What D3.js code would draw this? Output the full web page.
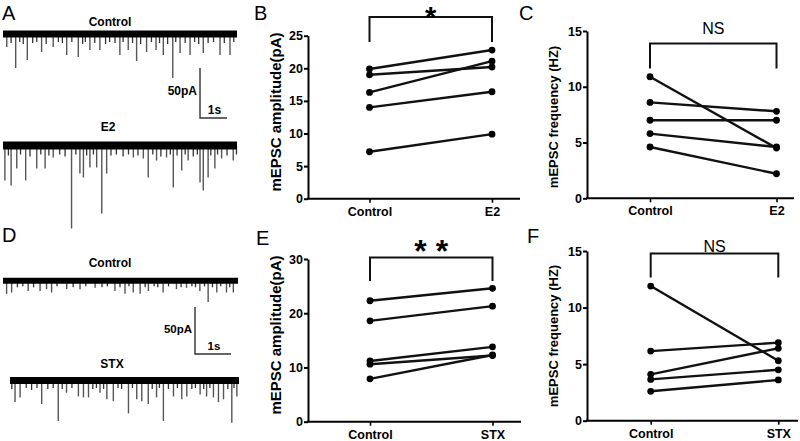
<!DOCTYPE html>
<html><head><meta charset="utf-8">
<script src="https://cdn.jsdelivr.net/npm/d3@7"></script>
<style>html,body{margin:0;padding:0;background:#fff}svg{display:block}</style>
</head><body>
<svg id="fig" width="800" height="441"></svg>
<script>
// ---------- DATA ----------
const panelLetters = ["A","B","C","D","E","F"];

const catsE2 = ["Control","E2"];
const catsSTX = ["Control","STX"];

const ampE2Control = [19.9, 19.0, 16.3, 14.0, 7.2];
const ampE2Treated = [22.8, 20.2, 21.1, 16.4, 9.9];
const ampE2Ticks = [0,5,10,15,20,25];

const freqE2Control = [10.9, 8.6, 7.0, 5.8, 4.6];
const freqE2Treated = [4.5, 7.8, 7.0, 4.6, 2.2];
const freqE2Ticks = [0,5,10,15];

const ampSTXControl = [22.3, 18.6, 11.2, 10.6, 7.9];
const ampSTXTreated = [24.6, 21.3, 13.8, 12.2, 12.3];
const ampSTXTicks = [0,10,20,30];

const freqSTXControl = [11.9, 6.15, 4.1, 3.65, 2.6];
const freqSTXTreated = [5.3, 6.9, 6.4, 4.5, 3.6];
const freqSTXTicks = [0,5,10,15];

// traces: [time s, amplitude pA]
const traceACtrlEvents = [[0.14,13],[0.47,34],[0.9,26],[1.43,18],[1.86,13],[2.36,21],[2.79,23],[3.22,16],[3.59,16],[4.33,21],[4.64,16],[4.95,27],[5.32,18],[5.67,16],[5.94,21],[6.29,44],[6.56,19],[6.93,21],[7.42,19],[8.04,21],[8.41,21]];
const traceACtrlSmall = [[0.3,9],[0.62,8],[0.75,10],[1.1,9],[1.25,8],[1.6,10],[2.05,8],[2.2,9],[2.55,8],[2.95,10],[3.05,8],[3.4,9],[3.8,10],[3.95,8],[4.15,9],[4.45,8],[4.8,9],[5.1,10],[5.5,8],[5.8,9],[6.1,10],[6.4,8],[6.75,9],[7.1,8],[7.25,10],[7.6,9],[7.8,8],[8.2,9],[8.55,8]];
const traceAE2Events = [[0.07,35],[0.3,40],[0.51,23],[0.84,35],[1.25,23],[1.56,23],[1.86,12],[2.54,83],[2.85,28],[2.98,32],[3.22,22],[3.47,22],[3.66,68],[3.84,28],[4.83,12],[5.2,13],[5.38,32],[5.69,15],[6.06,12],[6.31,42],[6.62,25],[6.86,15],[7.3,37],[7.42,45],[7.6,32],[7.85,23],[8.1,13],[8.53,15]];
const traceAE2Small = [[0.2,10],[0.65,9],[1.0,11],[1.4,9],[1.7,10],[2.1,9],[2.3,11],[2.7,9],[3.1,10],[3.35,9],[4.0,10],[4.2,9],[4.45,11],[4.65,9],[5.0,10],[5.55,9],[5.85,11],[6.2,9],[6.45,10],[6.75,9],[7.05,11],[7.2,9],[7.7,10],[7.95,9],[8.3,10],[8.65,9]];
const traceDCtrlEvents = [[0.1,14],[0.24,12.6],[0.7,11],[1.03,11],[1.21,9],[1.35,12.6],[1.77,9],[2.14,9],[2.56,7.6],[3.11,11],[3.39,14],[3.62,12.6],[3.81,14],[4.04,11],[4.45,12.6],[4.82,9],[5.1,7.6],[5.47,11],[5.7,22.6],[5.94,12.6],[6.21,12.6],[6.4,12.6]];
const traceDCtrlSmall = [[0.4,7],[0.55,6],[0.85,7],[1.5,6],[1.95,7],[2.3,6],[2.75,7],[2.9,6],[3.25,7],[3.5,6],[3.95,7],[4.2,6],[4.3,7],[4.6,6],[4.95,7],[5.25,6],[5.35,7],[5.6,6],[5.82,7],[6.05,6],[6.3,7]];
const traceDSTXEvents = [[0.14,23],[0.28,18],[0.88,25],[1.34,43],[1.57,13],[1.9,17],[2.04,18],[2.18,18],[2.5,13],[2.69,20],[2.87,22],[3.29,35],[3.52,20],[3.66,22],[3.84,25],[4.07,18],[4.26,43],[4.54,17],[4.77,20],[4.91,17],[5.28,15],[5.46,17],[5.65,18],[5.79,23],[5.93,20],[6.16,45],[6.3,17]];
const traceDSTXSmall = [[0.05,9],[0.45,8],[0.6,10],[0.75,8],[1.05,9],[1.2,8],[1.45,9],[1.72,8],[2.3,9],[2.4,8],[2.6,9],[3.0,8],[3.1,9],[3.4,8],[3.95,9],[4.15,8],[4.4,9],[4.65,8],[5.05,9],[5.15,8],[5.38,9],[5.55,8],[6.05,9],[6.22,8]];

// ---------- DRAW ----------
const svg = d3.select("#fig");
const FONT = "'Liberation Sans', Arial, Helvetica, sans-serif";

// panel letters
const letterPos = [[2,20],[254,20],[519,20],[2,242],[256,245],[527,243]];
svg.selectAll("text.plab").data(panelLetters).join("text")
  .attr("class","plab")
  .attr("x",(d,i)=>letterPos[i][0]).attr("y",(d,i)=>letterPos[i][1])
  .attr("font-family",FONT).attr("font-size",20).attr("fill","#000")
  .text(d=>d);

function drawPanel(cfg, cats, ctrl, treat, ticks, ylabel, sigText) {
  const g = svg.append("g");
  const x = d3.scalePoint().domain(cats).range([cfg.cx, cfg.tx]);
  const y = d3.scaleLinear().domain([0, ticks[ticks.length-1]]).range([cfg.y0, cfg.y1]);

  const ya = g.append("g").attr("transform",`translate(${cfg.ax},0)`)
    .call(d3.axisLeft(y).tickValues(ticks).tickSize(4).tickPadding(1).tickSizeOuter(0));
  ya.attr("font-family",FONT).attr("font-size",12.5).attr("font-weight","bold");
  ya.select(".domain").attr("stroke-width",2);
  ya.selectAll(".tick line").attr("stroke-width",2);

  const xa = g.append("g").attr("transform",`translate(0,${cfg.y0})`)
    .call(d3.axisBottom(x).tickSize(4).tickPadding(4).tickSizeOuter(0));
  xa.attr("font-family",FONT).attr("font-size",12.5).attr("font-weight","bold");
  xa.select(".domain").attr("d",`M${cfg.ax-1},0H${cfg.xend}`).attr("stroke-width",2);
  xa.selectAll(".tick line").attr("stroke-width",1.6);

  // y label
  g.append("text")
    .attr("transform",`translate(${cfg.lx},${cfg.ly}) rotate(-90)`)
    .attr("text-anchor","middle").attr("font-family",FONT)
    .attr("font-weight","bold").attr("font-size",cfg.lfs)
    .text(ylabel);

  // paired lines
  const pairs = ctrl.map((v,i)=>[v, treat[i]]);
  g.selectAll("line.pair").data(pairs).join("line")
    .attr("x1",x(cats[0])).attr("x2",x(cats[1]))
    .attr("y1",d=>y(d[0])).attr("y2",d=>y(d[1]))
    .attr("stroke","#111").attr("stroke-width",2.4);
  g.selectAll("circle.c").data(ctrl).join("circle")
    .attr("cx",x(cats[0])).attr("cy",d=>y(d)).attr("r",3.4).attr("fill","#000");
  g.selectAll("circle.t").data(treat).join("circle")
    .attr("cx",x(cats[1])).attr("cy",d=>y(d)).attr("r",3.4).attr("fill","#000");

  // significance bracket
  g.append("path")
    .attr("d",`M${x(cats[0])},${cfg.bEnd}V${cfg.bTop}H${x(cats[1])}V${cfg.bEnd}`)
    .attr("fill","none").attr("stroke","#111").attr("stroke-width",2);
  g.append("text")
    .attr("x",(x(cats[0])+x(cats[1]))/2).attr("y",cfg.sy)
    .attr("text-anchor","middle").attr("font-family",FONT)
    .attr("font-size",cfg.sfs).attr("font-weight",cfg.sfw)
    .text(sigText);
}

drawPanel({ax:308,cx:369.5,tx:492,xend:520,y0:198.7,y1:35.7,lx:281,ly:112,lfs:15,bTop:17,bEnd:42,sy:27,sfs:29,sfw:"bold"},
  catsE2, ampE2Control, ampE2Treated, ampE2Ticks, "mEPSC amplitude(pA)", "*");
drawPanel({ax:587,cx:650,tx:776.5,xend:794,y0:198.3,y1:31,lx:558,ly:117,lfs:13,bTop:43.5,bEnd:68.5,sy:33.5,sfs:16,sfw:"normal"},
  catsE2, freqE2Control, freqE2Treated, freqE2Ticks, "mEPSC frequency (HZ)", "NS");
drawPanel({ax:308,cx:370,tx:492.5,xend:521,y0:421.7,y1:259,lx:281,ly:335,lfs:15,bTop:257.5,bEnd:281,sy:262,sfs:32,sfw:"bold"},
  catsSTX, ampSTXControl, ampSTXTreated, ampSTXTicks, "mEPSC amplitude(pA)", "* *");
drawPanel({ax:587,cx:650.7,tx:778.3,xend:798,y0:420.7,y1:251,lx:558,ly:336,lfs:13,bTop:253.5,bEnd:277.5,sy:252,sfs:16,sfw:"normal"},
  catsSTX, freqSTXControl, freqSTXTreated, freqSTXTicks, "mEPSC frequency (HZ)", "NS");

// ---- traces ----
function drawTrace(cfg, events, small) {
  const g = svg.append("g");
  const x = d3.scaleLinear().domain([0,cfg.dur]).range([cfg.x0,cfg.x1]);
  const a = d3.scaleLinear().domain([0,50]).range([0,50*cfg.ppa]);
  g.selectAll("line.ev").data(events).join("line")
    .attr("x1",d=>x(d[0])).attr("x2",d=>x(d[0]))
    .attr("y1",cfg.base).attr("y2",d=>cfg.base+a(d[1]))
    .attr("stroke","#555").attr("stroke-width",1.4);
  g.selectAll("line.sm").data(small).join("line")
    .attr("x1",d=>x(d[0])).attr("x2",d=>x(d[0]))
    .attr("y1",cfg.base).attr("y2",d=>cfg.base+a(d[1]))
    .attr("stroke","#333").attr("stroke-width",1.3);
  g.append("line").attr("x1",cfg.x0).attr("x2",cfg.x1)
    .attr("y1",cfg.base).attr("y2",cfg.base)
    .attr("stroke","#000").attr("stroke-width",cfg.bw);
  g.append("text").attr("x",cfg.tx).attr("y",cfg.ty).attr("text-anchor","middle")
    .attr("font-family",FONT).attr("font-weight","bold").attr("font-size",12).text(cfg.title);
  return {x,a};
}
function drawScaleBar(sb, sc) {
  const len50 = sc.a(50), len1 = sc.x(1)-sc.x(0);
  svg.append("path")
    .attr("d",`M${sb.x},${sb.yb-len50}V${sb.yb}H${sb.x+len1}`)
    .attr("fill","none").attr("stroke","#333").attr("stroke-width",1.4);
  svg.append("text").attr("x",sb.x-3).attr("y",sb.yb-len50/2+2).attr("text-anchor","end")
    .attr("font-family",FONT).attr("font-weight","bold").attr("font-size",sb.fs).text("50pA");
  svg.append("text").attr("x",sb.x+len1/2+1).attr("y",sb.yb-4).attr("text-anchor","middle")
    .attr("font-family",FONT).attr("font-weight","bold").attr("font-size",sb.fs).text("1s");
}

const sA = drawTrace({x0:3,x1:237,dur:8.67,base:34,ppa:1,bw:7,title:"Control",tx:110,ty:26}, traceACtrlEvents, traceACtrlSmall);
drawTrace({x0:3,x1:237,dur:8.67,base:145.5,ppa:1,bw:8,title:"E2",tx:108,ty:131}, traceAE2Events, traceAE2Small);
drawScaleBar({x:200,yb:118,fs:12}, sA);

const sD = drawTrace({x0:3,x1:238,dur:6.53,base:280.7,ppa:0.94,bw:6,title:"Control",tx:110,ty:267}, traceDCtrlEvents, traceDCtrlSmall);
drawTrace({x0:10,x1:239,dur:6.36,base:380.5,ppa:0.94,bw:7,title:"STX",tx:112,ty:368}, traceDSTXEvents, traceDSTXSmall);
drawScaleBar({x:195,yb:354,fs:11.5}, sD);
</script>
</body></html>
